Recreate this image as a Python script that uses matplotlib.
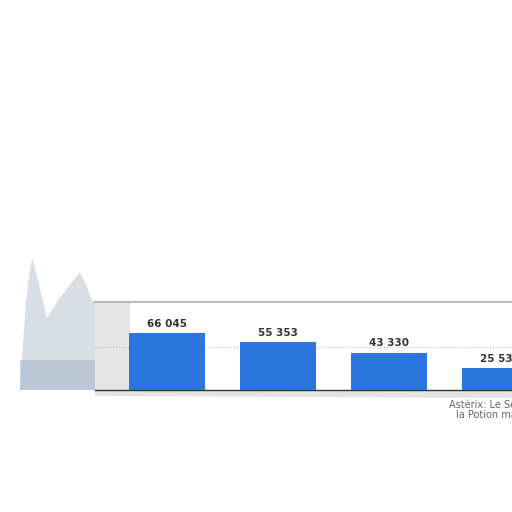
import matplotlib.pyplot as plt
from matplotlib.patches import Polygon

# donnees
categories = ["", "", "", "Astérix: Le Secret de\nla Potion magique"]
values = [66045, 55353, 43330, 25530]
value_labels = ["66 045", "55 353", "43 330", "25 530"]

# forme floue a gauche (contour en pixels de la figure)
smudge_x = [20, 26, 32, 38, 47, 58, 70, 80, 86, 92, 95, 95, 20]
smudge_y = [388, 300, 257, 280, 318, 300, 285, 272, 285, 300, 302, 390, 390]

fig = plt.figure(figsize=(5.12, 5.12), dpi=100)
fig.patch.set_facecolor('white')

# fond decoratif (forme grise)
bg = fig.add_axes([0, 0, 1, 1])
bg.set_xlim(0, 512)
bg.set_ylim(512, 0)
bg.axis('off')
bg.add_patch(Polygon(list(zip(smudge_x, smudge_y)), closed=True,
                     facecolor='#c9d0da', edgecolor='none', alpha=0.7))
bg.add_patch(Polygon([(20, 360), (95, 360), (95, 390), (20, 390)], closed=True,
                     facecolor='#9fb1c9', edgecolor='none', alpha=0.5))
bg.add_patch(Polygon([(95, 390), (512, 390), (512, 398), (95, 396)], closed=True,
                     facecolor='#dcdcdc', edgecolor='none', alpha=0.8))

ax = fig.add_axes([95 / 512, 1 - 390 / 512, 1 - 95 / 512, 88 / 512])
ax.set_facecolor('white')
x = range(len(values))
bars = ax.bar(x, values, width=0.685, color='#2a76dd', zorder=3)
ax.axvspan(-0.65, -0.342, color='#e6e6e6', zorder=1)
ax.set_xlim(-0.65, 3.108)
ax.set_ylim(0, 101963)
ax.set_yticks([50000])
ax.yaxis.grid(True, linestyle=':', color='#bbbbbb', linewidth=0.8, zorder=0)
ax.tick_params(left=False, labelleft=False, bottom=False)
ax.set_xticks(list(x))
ax.set_xticklabels(categories, fontsize=7, color='#666666', linespacing=1.0)

for b, lab in zip(bars, value_labels):
    ax.text(b.get_x() + b.get_width() / 2, b.get_height() + 5000, lab,
            ha='center', va='bottom', fontsize=7.5, fontweight='bold',
            color='#333333')

for side in ['left', 'right']:
    ax.spines[side].set_visible(False)
ax.spines['top'].set_color('#bbbbbb')
ax.spines['top'].set_linewidth(1.5)
ax.spines['bottom'].set_color('#333333')
ax.spines['bottom'].set_linewidth(1.0)

fig.savefig('out.png', dpi=100)
